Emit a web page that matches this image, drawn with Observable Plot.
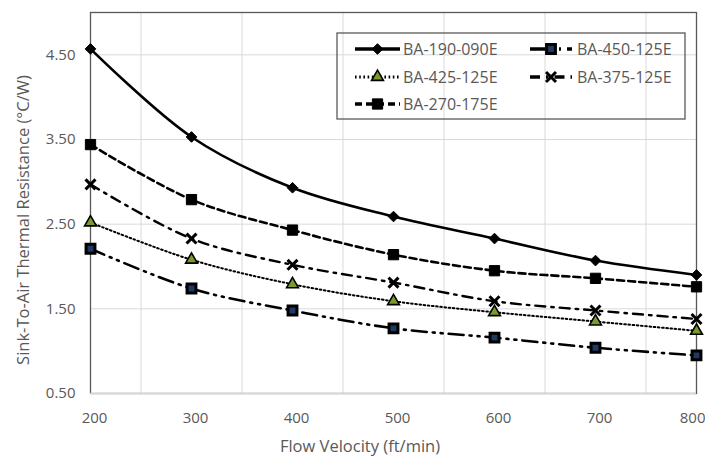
<!DOCTYPE html>
<html>
<head>
<meta charset="utf-8">
<script src="https://cdn.jsdelivr.net/npm/d3@7"></script>
<script src="https://cdn.jsdelivr.net/npm/@observablehq/plot@0.6"></script>
<style>
  html, body { margin: 0; padding: 0; background: white; }
  #wrap { position: relative; width: 705px; height: 459px; }
  #legend { position: absolute; left: 0; top: 0; pointer-events: none; }
</style>
</head>
<body>
<div id="wrap"></div>
<script>
// ---- data ----
const velocity = [200, 300, 400, 500, 600, 700, 800];
const seriesNames = ["BA-190-090E", "BA-450-125E", "BA-425-125E", "BA-375-125E", "BA-270-175E"];
const r190 = [4.57, 3.53, 2.93, 2.59, 2.33, 2.07, 1.90];
const r450 = [2.21, 1.74, 1.48, 1.27, 1.16, 1.04, 0.95];
const r425 = [2.52, 2.08, 1.79, 1.59, 1.46, 1.35, 1.24];
const r375 = [2.97, 2.33, 2.02, 1.81, 1.59, 1.48, 1.38];
const r270 = [3.44, 2.79, 2.43, 2.14, 1.95, 1.86, 1.76];
const xTicks = [200, 300, 400, 500, 600, 700, 800];
const xGrid = [250, 350, 450, 550, 650, 750];
const yTicks = [0.5, 1.5, 2.5, 3.5, 4.5];
const xTitle = "Flow Velocity (ft/min)";
const yTitle = "Sink-To-Air Thermal Resistance (°C/W)";

const seriesValues = [r190, r450, r425, r375, r270];
const styles = {
  "BA-190-090E": {dash: null, width: 2.6, symbol: "diamond2", r: 4.8, fill: "black", stroke: "black", sw: 1},
  "BA-450-125E": {dash: "15,6,2,6,2,6", width: 2.6, symbol: "square", r: 5, fill: "#1f3864", stroke: "black", sw: 3},
  "BA-425-125E": {dash: "1.6,2.6", width: 2, symbol: "triangle", r: 4.4, fill: "#7a9a2e", stroke: "black", sw: 1.6},
  "BA-375-125E": {dash: "10,6,2.5,6", width: 2.4, symbol: "times", r: 4.6, fill: "none", stroke: "black", sw: 3},
  "BA-270-175E": {dash: "7,4", width: 2.6, symbol: "square", r: 5.8, fill: "black", stroke: "black", sw: 1}
};

const rows = [];
seriesNames.forEach((name, i) => {
  velocity.forEach((v, j) => rows.push({series: name, v, r: seriesValues[i][j]}));
});

const marks = [
  Plot.ruleX(xGrid, {stroke: "#d9d9d9", strokeWidth: 1}),
  Plot.ruleY(yTicks.slice(1), {stroke: "#d9d9d9", strokeWidth: 1}),
  Plot.frame({stroke: "#595959", strokeWidth: 1.3}),
  Plot.ruleY([0.5], {stroke: "#d9d9d9", strokeWidth: 1.5})
];
seriesNames.forEach(name => {
  const s = styles[name];
  const d = rows.filter(r => r.series === name);
  marks.push(Plot.line(d, {x: "v", y: "r", stroke: "black", strokeWidth: s.width,
    strokeDasharray: s.dash, curve: "catmull-rom"}));
});
seriesNames.forEach(name => {
  const s = styles[name];
  const d = rows.filter(r => r.series === name);
  marks.push(Plot.dot(d, {x: "v", y: "r", symbol: () => s.symbol, r: s.r,
    fill: s.fill, stroke: s.stroke, strokeWidth: s.sw}));
});

const chart = Plot.plot({
  width: 705,
  height: 459,
  marginLeft: 90,
  marginRight: 9,
  marginTop: 12,
  marginBottom: 66,
  style: {fontFamily: "'Open Sans', sans-serif", fontSize: "15px", color: "#595959", background: "white"},
  x: {domain: [200, 800]},
  y: {domain: [0.5, 5.0]},
  marks: [
    ...marks,
    Plot.axisX(xTicks.slice(0, -1), {tickSize: 0, tickPadding: 19, dx: 4, tickFormat: d => String(d),
      label: null, fontSize: 15}),
    Plot.axisX(xTicks.slice(-1), {tickSize: 0, tickPadding: 19, dx: 9, textAnchor: "end", tickFormat: d => String(d),
      label: null, fontSize: 15}),
    Plot.axisY({ticks: yTicks, tickSize: 0, tickPadding: 15, tickFormat: d3.format(".2f"),
      label: null, fontSize: 15})
  ]
});

const wrap = document.getElementById("wrap");
wrap.appendChild(chart);

// ---- overlay: titles + legend ----
const leg = d3.select(wrap).append("svg").attr("id", "legend")
  .attr("width", 705).attr("height", 459);
leg.append("text").attr("x", 360).attr("y", 446).attr("dy", "0.35em")
  .attr("text-anchor", "middle").attr("font-family", "'Open Sans', sans-serif")
  .attr("font-size", 16.5).attr("fill", "#595959").text(xTitle);
leg.append("text").attr("transform", "translate(23,220) rotate(-90)").attr("dy", "0.35em")
  .attr("text-anchor", "middle").attr("font-family", "'Open Sans', sans-serif")
  .attr("font-size", 16.5).attr("fill", "#595959").text(yTitle);

leg.append("rect").attr("x", 337).attr("y", 33).attr("width", 348).attr("height", 86)
  .attr("fill", "none").attr("stroke", "#595959").attr("stroke-width", 1.3);
const legPos = [
  {x0: 355, x1: 400, tx: 403, y: 49},
  {x0: 530, x1: 572, tx: 577, y: 49},
  {x0: 355, x1: 400, tx: 403, y: 77},
  {x0: 530, x1: 572, tx: 577, y: 77},
  {x0: 355, x1: 400, tx: 403, y: 104}
];
const symMap = {diamond2: d3.symbolDiamond2, square: d3.symbolSquare, triangle: d3.symbolTriangle, times: d3.symbolTimes};
seriesNames.forEach((name, i) => {
  const s = styles[name];
  const p = legPos[i];
  const g = leg.append("g");
  g.append("line").attr("x1", p.x0).attr("x2", p.x1).attr("y1", p.y).attr("y2", p.y)
    .attr("stroke", "black").attr("stroke-width", s.width + 1)
    .attr("stroke-dasharray", s.dash);
  const cx = (p.x0 + p.x1) / 2;
  g.append("path").attr("transform", `translate(${cx},${p.y})`)
    .attr("d", d3.symbol(symMap[s.symbol], Math.PI * s.r * s.r)())
    .attr("fill", s.fill).attr("stroke", s.stroke).attr("stroke-width", s.sw);
  g.append("text").attr("x", p.tx).attr("y", p.y).attr("dy", "0.35em")
    .attr("font-family", "'Open Sans', sans-serif").attr("font-size", 16)
    .attr("fill", "#595959").text(name);
});
</script>
</body>
</html>
